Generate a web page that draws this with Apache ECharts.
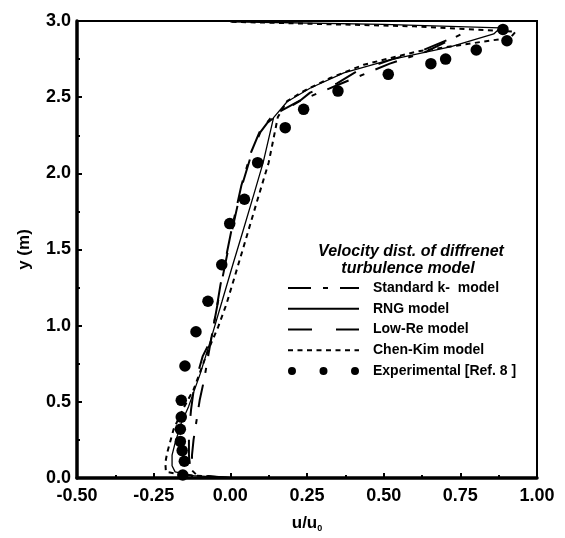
<!DOCTYPE html>
<html>
<head>
<meta charset="utf-8">
<script src="https://cdn.jsdelivr.net/npm/echarts@6/dist/echarts.min.js"></script>
<style>html,body{margin:0;padding:0;background:#fff;}#c{width:565px;height:538px;}</style>
</head>
<body>
<div id="c"></div>
<script>
// ---- data ----
var xTicks = [-0.5, 1.0, 0.25];
var yTicks = [0, 3.0, 0.5];
var seriesNames = ['Standard k-  model', 'RNG model', 'Low-Re model', 'Chen-Kim model', 'Experimental [Ref. 8 ]'];

var kepsU = [0.0,-0.11,-0.125,-0.125,-0.12,-0.11,-0.1,-0.085,-0.068,-0.05,-0.032,0.003,0.036,0.068,0.095,0.13,0.165,0.225,0.35,0.52,0.64,0.77];
var kepsY = [0.0,0.02,0.05,0.15,0.25,0.38,0.51,0.65,0.85,1.05,1.27,1.62,1.92,2.14,2.27,2.36,2.41,2.475,2.58,2.72,2.8,2.93];

var rngU = [0.0,-0.12,-0.18,-0.19,-0.19,-0.18,-0.16,-0.136,-0.098,-0.065,-0.027,0.008,0.041,0.075,0.107,0.141,0.185,0.261,0.37,0.52,0.717,0.859,0.88,0.5,0.0];
var rngY = [0.0,0.015,0.04,0.08,0.15,0.23,0.36,0.47,0.685,0.9,1.16,1.4,1.62,1.85,2.07,2.366,2.47,2.56,2.66,2.745,2.83,2.915,2.955,2.978,2.995];

var lowReU = [0.0,-0.1,-0.13,-0.135,-0.135,-0.128,-0.118,-0.09,-0.065,-0.05,-0.03,0.005,0.038,0.071,0.098,0.12,0.163,0.223,0.26,0.348,0.413,0.522,0.63,0.76];
var lowReY = [0.0,0.015,0.05,0.15,0.3,0.45,0.6,0.8,0.9,1.05,1.27,1.62,1.92,2.14,2.27,2.33,2.4,2.47,2.53,2.59,2.67,2.745,2.81,2.92];

var chenU = [0.0,-0.15,-0.21,-0.212,-0.206,-0.185,-0.155,-0.12,-0.07,-0.04,-0.013,0.011,0.048,0.092,0.125,0.14,0.155,0.185,0.239,0.326,0.435,0.609,0.826,0.913,0.93,0.6,0.0];
var chenY = [0.0,0.02,0.04,0.1,0.165,0.32,0.45,0.58,0.85,0.99,1.14,1.3,1.55,1.85,2.07,2.22,2.37,2.474,2.54,2.626,2.713,2.8,2.865,2.89,2.93,2.965,2.995];

var expU = [-0.155,-0.150,-0.157,-0.163,-0.163,-0.160,-0.160,-0.148,-0.112,-0.073,-0.028,-0.002,0.046,0.089,0.179,0.239,0.351,0.515,0.654,0.702,0.802,0.902,0.889];
var expY = [0.02,0.11,0.18,0.24,0.32,0.40,0.51,0.735,0.96,1.16,1.40,1.67,1.83,2.07,2.30,2.42,2.54,2.65,2.72,2.75,2.81,2.87,2.945];

function zip(a, b) { return a.map(function (v, i) { return [v, b[i]]; }); }

var chart = echarts.init(document.getElementById('c'));
var F = '"Liberation Sans", Arial, sans-serif';
var dotsIcon = 'path://M0,4.5a4.5,4.5 0 1,0 9,0a4.5,4.5 0 1,0 -9,0Z M35.5,4.5a4.5,4.5 0 1,0 9,0a4.5,4.5 0 1,0 -9,0Z M71,4.5a4.5,4.5 0 1,0 9,0a4.5,4.5 0 1,0 -9,0Z';

function lineSeries(name, u, y, dash, w) {
  return {
    name: name, type: 'line', data: zip(u, y), symbol: 'none', showSymbol: false,
    color: '#000', lineStyle: { color: '#000', width: w, type: dash }, animation: false, z: 3
  };
}
var hideSym = { opacity: 0 };

chart.setOption({
  backgroundColor: '#fff',
  animation: false,
  grid: { left: 77, right: 28, top: 21, bottom: 56, show: true, borderColor: '#000', borderWidth: 2, backgroundColor: 'transparent' },
  xAxis: {
    type: 'value', min: xTicks[0], max: xTicks[1], interval: xTicks[2],
    name: 'u/u{s|0}', nameLocation: 'middle', nameGap: 36,
    nameTextStyle: { fontFamily: F, fontWeight: 'bold', fontSize: 17, color: '#000',
      rich: { s: { fontFamily: F, fontWeight: 'bold', fontSize: 9, color: '#000', padding: [10, 0, 0, 0] } } },
    axisLine: { onZero: false, lineStyle: { color: '#000', width: 3.5 } },
    axisTick: { inside: true, length: 5, lineStyle: { color: '#000', width: 2 } },
    minorTick: { show: true, splitNumber: 2, length: 3, lineStyle: { color: '#000', width: 2 } },
    splitLine: { show: false },
    axisLabel: { margin: 9, fontFamily: F, fontWeight: 'bold', fontSize: 18, color: '#000',
      formatter: function (v) { return v.toFixed(2); } }
  },
  yAxis: {
    type: 'value', min: yTicks[0], max: yTicks[1], interval: yTicks[2],
    name: 'y (m)', nameLocation: 'middle', nameGap: 44, nameRotate: 90,
    nameTextStyle: { fontFamily: F, fontWeight: 'bold', fontSize: 17, color: '#000' },
    axisLine: { onZero: false, lineStyle: { color: '#000', width: 3.5 } },
    axisTick: { inside: true, length: 5, lineStyle: { color: '#000', width: 2 } },
    minorTick: { show: true, splitNumber: 2, length: 3, lineStyle: { color: '#000', width: 2 } },
    splitLine: { show: false },
    axisLabel: { margin: 6, fontFamily: F, fontWeight: 'bold', fontSize: 18, color: '#000',
      formatter: function (v) { return v.toFixed(1); } }
  },
  legend: {
    orient: 'vertical', left: 287, top: 281, padding: 0, itemWidth: 71, itemHeight: 14, itemGap: 6.75,
    align: 'left', selectedMode: false,
    textStyle: { fontFamily: F, fontWeight: 'bold', fontSize: 14, color: '#000', padding: [0, 0, 0, 9] },
    data: [
      { name: seriesNames[0], itemStyle: hideSym }, { name: seriesNames[1], itemStyle: hideSym },
      { name: seriesNames[2], itemStyle: hideSym }, { name: seriesNames[3], itemStyle: hideSym },
      { name: seriesNames[4], icon: dotsIcon, itemStyle: { color: '#000', opacity: 1 } }
    ]
  },
  graphic: [
    { type: 'text', x: 411, y: 252, style: { text: 'Velocity dist. of diffrenet', textAlign: 'center', textVerticalAlign: 'middle',
      font: 'italic bold 16px "Liberation Sans", Arial, sans-serif', fill: '#000' } },
    { type: 'text', x: 408, y: 269, style: { text: 'turbulence model', textAlign: 'center', textVerticalAlign: 'middle',
      font: 'italic bold 16px "Liberation Sans", Arial, sans-serif', fill: '#000' } }
  ],
  series: [
    lineSeries(seriesNames[0], kepsU, kepsY, [23, 12, 5, 12], 2),
    lineSeries(seriesNames[1], rngU, rngY, 'solid', 1.3),
    lineSeries(seriesNames[2], lowReU, lowReY, [24, 24], 2),
    lineSeries(seriesNames[3], chenU, chenY, [5, 4.5], 2),
    { name: seriesNames[4], type: 'scatter', data: zip(expU, expY), symbol: 'circle', symbolSize: 11.5,
      itemStyle: { color: '#000', opacity: 1 }, z: 4, animation: false }
  ]
});
</script>
</body>
</html>
